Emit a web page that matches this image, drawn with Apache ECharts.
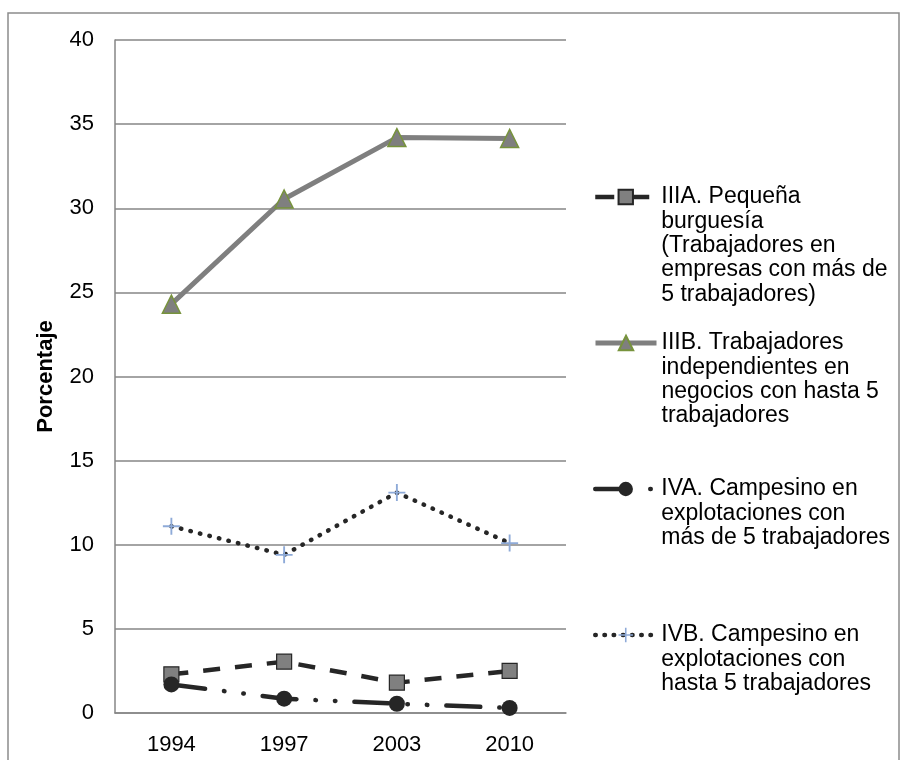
<!DOCTYPE html>
<html><head><meta charset="utf-8">
<script src="https://cdn.jsdelivr.net/npm/echarts@6/dist/echarts.min.js"></script>
<style>html,body{margin:0;padding:0;background:#fff}#c{width:902px;height:760px}</style>
</head><body><div id="c"></div>
<script>
const categories = ['1994', '1997', '2003', '2010'];
const yAxisTitle = 'Porcentaje';
const iiiaValues = [2.3, 3.05, 1.8, 2.5];
const iiibValues = [24.3, 30.55, 34.2, 34.15];
const ivaValues = [1.7, 0.85, 0.55, 0.3];
const ivbValues = [11.1, 9.4, 13.1, 10.1];
const iiiaLabel = ['IIIA. Pequeña', 'burguesía', '(Trabajadores en', 'empresas con más de', '5 trabajadores)'];
const iiibLabel = ['IIIB. Trabajadores', 'independientes en', 'negocios con hasta 5', 'trabajadores'];
const ivaLabel = ['IVA. Campesino en', 'explotaciones con', 'más de 5 trabajadores'];
const ivbLabel = ['IVB. Campesino en', 'explotaciones con', 'hasta 5 trabajadores'];

const FONT = 'Liberation Sans, Arial, sans-serif';
const LH = 24.3;
const LFS = 23;
const FS = 22;
const plus = 'path://M0,8.9H8.9V0H11.1V8.9H20V11.1H11.1V20H8.9V11.1H0Z';

function legendFor(lines, iconY, lineStyle) {
  const n = lines.length;
  const text = '\n'.repeat(n - 1) + lines.join('\n');
  return {
    data: [lines[0]],
    left: 593,
    top: iconY - (2 * n - 1) * LH / 2,
    orient: 'vertical',
    itemWidth: 61,
    itemHeight: 18,
    padding: 0,
    formatter: () => text,
    lineStyle: lineStyle,
    textStyle: { fontFamily: FONT, fontSize: LFS, lineHeight: LH, color: '#000' },
    selectedMode: false
  };
}

const chart = echarts.init(document.getElementById('c'), null, { renderer: 'canvas' });
chart.setOption({
  animation: false,
  backgroundColor: '#fff',
  graphic: [{
    type: 'rect', silent: true, z: -1,
    shape: { x: 8, y: 13, width: 891, height: 760 },
    style: { fill: 'none', stroke: '#8c8c8c', lineWidth: 1.5 }
  }],
  grid: { left: 115, right: 336, top: 40, bottom: 47 },
  legend: [
    legendFor(iiiaLabel, 197, { width: 4.5, type: [19, 18, 17, 100] }),
    legendFor(iiibLabel, 343, { width: 5 }),
    legendFor(ivaLabel, 489, { width: 4.5, type: [31, 24, 0.5, 100], cap: 'round' }),
    legendFor(ivbLabel, 635, { width: 4.5, type: [0.5, 8.7], cap: 'round' })
  ],
  xAxis: {
    type: 'category',
    data: categories,
    boundaryGap: true,
    axisLine: { lineStyle: { color: '#868686', width: 1.5 } },
    axisTick: { show: false },
    axisLabel: { fontFamily: FONT, fontSize: FS, color: '#000', margin: 21 }
  },
  yAxis: {
    type: 'value',
    min: 0, max: 40, interval: 5,
    name: yAxisTitle,
    nameLocation: 'middle',
    nameRotate: 90,
    nameGap: 58,
    nameTextStyle: { fontFamily: FONT, fontSize: 22, fontWeight: 'bold', color: '#000' },
    axisLine: { show: true, lineStyle: { color: '#868686', width: 1.5 } },
    axisTick: { show: false },
    splitLine: { lineStyle: { color: '#868686', width: 1.5 } },
    axisLabel: { fontFamily: FONT, fontSize: FS, color: '#000', margin: 21 }
  },
  series: [
    {
      name: iiiaLabel[0], type: 'line', data: iiiaValues,
      symbol: 'rect', symbolSize: 15,
      itemStyle: { color: '#808080', borderColor: '#262626', borderWidth: 1.2 },
      lineStyle: { color: '#262626', width: 4.5, type: [17, 15] }
    },
    {
      name: iiibLabel[0], type: 'line', data: iiibValues,
      symbol: 'triangle', symbolSize: 18,
      itemStyle: { color: '#7f7f7f', borderColor: '#77933c', borderWidth: 1.5 },
      lineStyle: { color: '#7f7f7f', width: 5, type: 'solid' }
    },
    {
      name: ivaLabel[0], type: 'line', data: ivaValues,
      symbol: 'circle', symbolSize: 16,
      itemStyle: { color: '#262626' },
      lineStyle: { color: '#262626', width: 4.5, type: [34, 19, 0.5, 19, 0.5, 19], cap: 'round' }
    },
    {
      name: ivbLabel[0], type: 'line', data: ivbValues,
      symbol: plus, symbolSize: 17,
      itemStyle: { color: '#8eaad8' },
      lineStyle: { color: '#262626', width: 4.5, type: [0.5, 9.3], cap: 'round' },
      z: 3
    }
  ]
});
</script></body></html>
